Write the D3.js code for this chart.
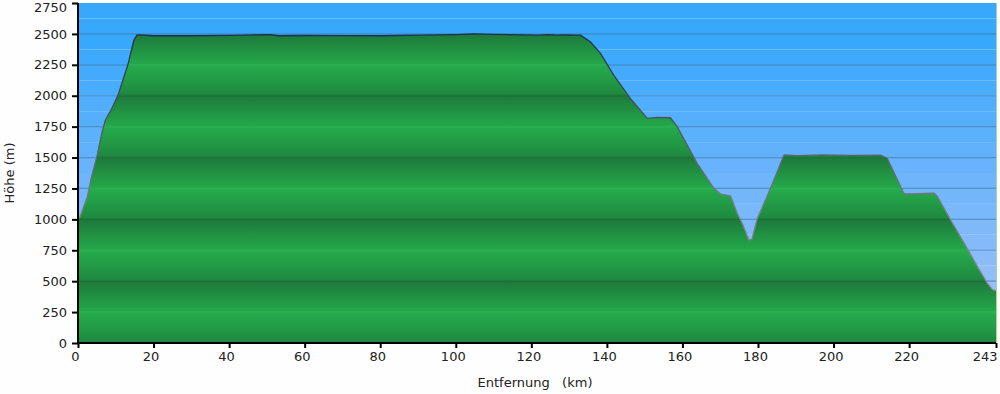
<!DOCTYPE html>
<html>
<head>
<meta charset="utf-8">
<script src="https://cdnjs.cloudflare.com/ajax/libs/d3/7.8.5/d3.min.js"></script>
<style>
  body { margin: 0; background: #fdfefd; }
  svg { display: block; }
  text { font-family: Verdana, "DejaVu Sans", sans-serif; fill: #222; }
</style>
</head>
<body>
<script>
// profile: distance (km) and elevation (m)
var kmVals = [0, 0.5, 2.5, 3.6, 5.0, 6.3, 7.2, 9, 10.6, 13.2, 14.8, 15.6, 16.4, 20, 30, 40, 51, 53, 60, 70,
  80, 90, 100, 104.5, 110, 122, 124.5, 126.8, 128, 133, 135.6, 138.3, 141.8, 146.2, 150.7, 153.3, 156.8,
  158.6, 163.9, 168.3, 170.1, 172.7, 174.5, 175.8, 177.6, 178.4, 179.8, 181.6, 183.3, 185.1, 186.9, 190.4,
  196.6, 205, 212.5, 214.2, 218.6, 219.5, 226.6, 227.5, 231.0, 234.6, 238.1, 240.7, 242.1, 243];
var elevVals = [1000, 1020, 1185, 1345, 1507, 1695, 1800, 1900, 2005, 2250, 2450, 2490, 2492, 2485, 2485, 2488, 2495, 2485, 2487, 2486,
  2485, 2490, 2495, 2500, 2497, 2490, 2495, 2490, 2492, 2490, 2437, 2343, 2167, 1979, 1817, 1825, 1822,
  1750, 1453, 1251, 1205, 1191, 1049, 968, 833, 839, 1008, 1130, 1251, 1386, 1521, 1515,
  1521, 1518, 1520, 1494, 1211, 1205, 1211, 1183, 995, 806, 617, 483, 429, 423];

var yTicks = [0, 250, 500, 750, 1000, 1250, 1500, 1750, 2000, 2250, 2500, 2750];
var xTicks = [0, 20, 40, 60, 80, 100, 120, 140, 160, 180, 200, 220, 243];

var w = 1000, h = 394;
var plotLeft = 78, plotRight = 996, plotTop = 3, plotBottom = 343;

var svg = d3.select("body").append("svg")
    .attr("width", w)
    .attr("height", h);

var x = d3.scaleLinear().domain([0, 243]).range([plotLeft, plotRight]);
var y = d3.scaleLinear().domain([0, 2750]).range([plotBottom, plotTop]);

var data = kmVals.map(function(k, i) { return {km: k, ele: elevVals[i]}; });

var defs = svg.append("defs");

// repeating green stripes, one period = 500 m
var gg = defs.append("linearGradient")
    .attr("id", "green")
    .attr("gradientUnits", "userSpaceOnUse")
    .attr("spreadMethod", "repeat")
    .attr("x1", 0).attr("x2", 0)
    .attr("y1", y(500)).attr("y2", y(0));
[[0, "#1b6d36"], [0.025, "#1e7b3c"], [0.2, "#208c41"], [0.4, "#23a047"], [0.48, "#24a64a"],
 [0.49, "#29ae50"], [0.515, "#29ae50"], [0.525, "#25a94b"], [0.75, "#229b46"], [0.97, "#1f8940"], [1, "#1c7539"]]
  .forEach(function(s) {
    gg.append("stop").attr("offset", s[0]).attr("stop-color", s[1]);
  });

// outline colour: darker high up, grey lower down
var sg = defs.append("linearGradient")
    .attr("id", "outline")
    .attr("gradientUnits", "userSpaceOnUse")
    .attr("x1", 0).attr("x2", 0)
    .attr("y1", y(2500)).attr("y2", y(1000));
sg.append("stop").attr("offset", 0).attr("stop-color", "#1e2e44");
sg.append("stop").attr("offset", 0.5).attr("stop-color", "#4e5664");
sg.append("stop").attr("offset", 1).attr("stop-color", "#80808a");

// sky bands
var bandStep = 125;
var bands = d3.range(0, 2750, bandStep);
var skyColor = d3.interpolateRgb("#a9c3f8", "#38a8fd");
svg.append("g").selectAll("rect")
    .data(bands)
    .enter().append("rect")
    .attr("x", plotLeft)
    .attr("width", plotRight - plotLeft)
    .attr("y", function(d) { return y(d + bandStep); })
    .attr("height", function(d) { return y(d) - y(d + bandStep); })
    .attr("fill", function(d) { return skyColor(Math.min(1, d / 2375)); });

// grid lines
svg.append("g").selectAll("line")
    .data(yTicks.slice(1, -1))
    .enter().append("line")
    .attr("x1", plotLeft).attr("x2", plotRight)
    .attr("y1", function(d) { return y(d); })
    .attr("y2", function(d) { return y(d); })
    .attr("stroke", "#2f6ea0")
    .attr("stroke-opacity", 0.6)
    .attr("stroke-width", 1.2);

var area = d3.area()
    .x(function(d) { return x(d.km); })
    .y0(y(0))
    .y1(function(d) { return y(d.ele); });

var line = d3.line()
    .x(function(d) { return x(d.km); })
    .y(function(d) { return y(d.ele); });

svg.append("path")
    .datum(data)
    .attr("d", area)
    .attr("fill", "url(#green)");

svg.append("path")
    .datum(data)
    .attr("d", line)
    .attr("fill", "none")
    .attr("stroke", "url(#outline)")
    .attr("stroke-width", 1.3);

// thin light edge on the right of the plot
svg.append("line")
    .attr("x1", plotRight + 0.5).attr("x2", plotRight + 0.5)
    .attr("y1", plotTop).attr("y2", plotBottom)
    .attr("stroke", "#9fdc9a")
    .attr("stroke-width", 1);

// axes
var yAxis = d3.axisLeft(y).tickValues(yTicks).tickFormat(d3.format("d")).tickSize(6).tickPadding(5);
var yg = svg.append("g")
    .attr("transform", "translate(" + plotLeft + ",0)")
    .call(yAxis);

var xAxis = d3.axisBottom(x).tickValues(xTicks).tickFormat(d3.format("d")).tickSize(5).tickPadding(4);
var xg = svg.append("g")
    .attr("transform", "translate(0," + plotBottom + ")")
    .call(xAxis);

[yg, xg].forEach(function(g) {
  g.select(".domain").attr("stroke", "#000").attr("stroke-width", 2);
  g.selectAll(".tick line").attr("stroke", "#000").attr("stroke-width", 2);
  g.selectAll(".tick text")
      .style("font-family", "Verdana, 'DejaVu Sans', sans-serif")
      .style("font-size", "13px")
      .attr("fill", "#222");
});
yg.select(".domain").attr("d", "M0," + plotBottom + "V" + plotTop);
yg.selectAll(".tick text")
    .filter(function(d) { return d === 2750; })
    .attr("y", 4);
xg.select(".domain").attr("d", "M" + plotLeft + ",0H" + plotRight);
xg.selectAll(".tick text").attr("dx", -3);
xg.selectAll(".tick text")
    .filter(function(d) { return d === 243; })
    .attr("text-anchor", "end")
    .attr("dx", 1);

svg.append("text")
    .attr("x", 535)
    .attr("y", 387)
    .attr("text-anchor", "middle")
    .style("font-size", "13px")
    .attr("xml:space", "preserve")
    .text("Entfernung   (km)");

svg.append("text")
    .attr("transform", "translate(14,173) rotate(-90)")
    .attr("text-anchor", "middle")
    .style("font-size", "13px")
    .text("Höhe (m)");
</script>
</body>
</html>
